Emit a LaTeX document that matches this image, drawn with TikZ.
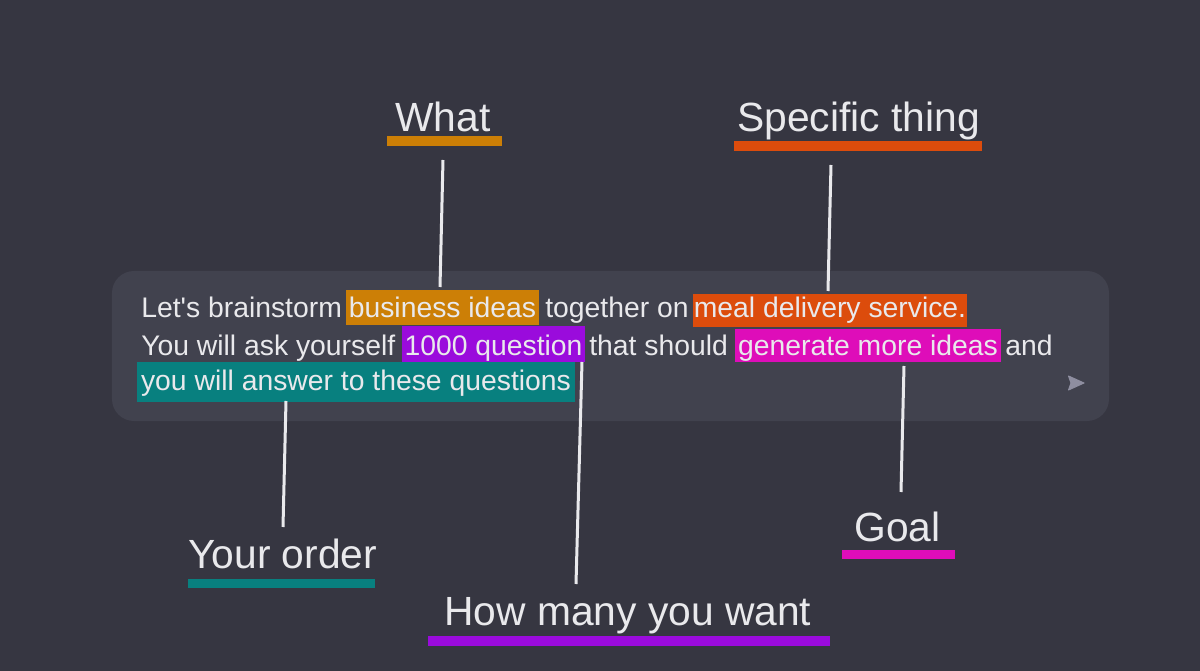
\documentclass[tikz,border=0pt]{standalone}
\usepackage{fontspec}
\setmainfont{Liberation Sans}
\definecolor{bgdark}{HTML}{363641}
\definecolor{boxgrey}{HTML}{41424E}
\definecolor{inktext}{HTML}{E9E9EC}
\definecolor{sendgrey}{HTML}{8E8EA0}
\definecolor{hlorange}{HTML}{CC7F06}
\definecolor{hlred}{HTML}{DC4C0C}
\definecolor{hlpurple}{HTML}{9A0BDC}
\definecolor{hlpink}{HTML}{DE0DB9}
\definecolor{hlteal}{HTML}{08807F}
\tikzset{
  bodytext/.style={text=inktext, inner sep=0pt, font=\fontsize{20.15}{24}\selectfont},
  plaintext/.style={bodytext, anchor=base west},
  hilite/.style={bodytext, anchor=base, align=center},
  bigtext/.style={text=inktext, inner sep=0pt, anchor=base west, font=\fontsize{29}{34}\selectfont},
  rulebar/.style={inner sep=0pt, minimum height=2.4mm},
  pointer/.style={draw=inktext, line width=0.75mm}
}
\begin{document}
\begin{tikzpicture}[x=0.25mm, y=-0.25mm]
\useasboundingbox (0,0) rectangle (1200,671);
\fill[bgdark] (0,0) rectangle (1200,671);
\node[fill=boxgrey, rounded corners=5.5mm, minimum width=249.25mm, minimum height=37.5mm, inner sep=0pt] (promptbox) at (610.5,346) {};

% highlighted words
\node[hilite, fill=hlorange, minimum width=48.25mm, text height=7mm, text depth=1.75mm] (business) at (442.5,318) {business ideas};
\node[hilite, fill=hlred, minimum width=68.5mm, text height=6mm, text depth=2.25mm] (meal) at (830,318) {meal delivery service.};
\node[hilite, fill=hlpurple, minimum width=45.75mm, text height=7.25mm, text depth=1.75mm] (thousand) at (493.5,355) {1000 question};
\node[hilite, fill=hlpink, minimum width=66.5mm, text height=6.5mm, text depth=1.75mm] (generate) at (868,355) {generate more ideas};
\node[hilite, fill=hlteal, minimum width=109.5mm, text height=7.25mm, text depth=2.75mm] (answer) at (356,391) {you will answer to these questions};

% plain words
\node[plaintext] (lets) at (141,318) {Let\textquotesingle s brainstorm};
\node[plaintext] (together) at (545,318) {together on};
\node[plaintext] (youwill) at (141,355) {You will ask yourself};
\node[plaintext] (that) at (589,355) {that should};
\node[plaintext] (and) at (1005,355) {and};

\fill[sendgrey, draw=sendgrey, line width=0.25mm, line join=round] (1084,383) -- (1068.5,376) -- (1071,383) -- (1068.5,390) -- cycle;

% labels with their bars
\node[bigtext] (what) at (395,132) {What};
\node[rulebar, fill=hlorange, minimum width=28.75mm] (whatbar) at (444.5,141) {};
\node[bigtext] (specific) at (737,132) {Specific thing};
\node[rulebar, fill=hlred, minimum width=62mm] (specificbar) at (858,146) {};
\node[bigtext] (order) at (188,568) {Your order};
\node[rulebar, fill=hlteal, minimum width=46.75mm] (orderbar) at (281.5,583.5) {};
\node[bigtext] (goal) at (854,541) {Goal};
\node[rulebar, fill=hlpink, minimum width=28.25mm] (goalbar) at (898.5,554.5) {};
\node[bigtext] (howmany) at (444,625) {How many you want};
\node[rulebar, fill=hlpurple, minimum width=100.5mm] (howmanybar) at (629,641) {};

% pointers
\coordinate (whattop) at (443,160);
\coordinate (whatend) at (440,287);
\coordinate (specifictop) at (831,165);
\coordinate (specificend) at (828,291);
\coordinate (goaltop) at (904,366);
\coordinate (goalend) at (901,492);
\coordinate (ordertop) at (286,401);
\coordinate (orderend) at (283,527);
\coordinate (manytop) at (582,362);
\coordinate (manyend) at (576,584);
\draw[pointer] (whattop) -- (whatend);
\draw[pointer] (specifictop) -- (specificend);
\draw[pointer] (goaltop) -- (goalend);
\draw[pointer] (ordertop) -- (orderend);
\draw[pointer] (manytop) -- (manyend);
\end{tikzpicture}
\end{document}
